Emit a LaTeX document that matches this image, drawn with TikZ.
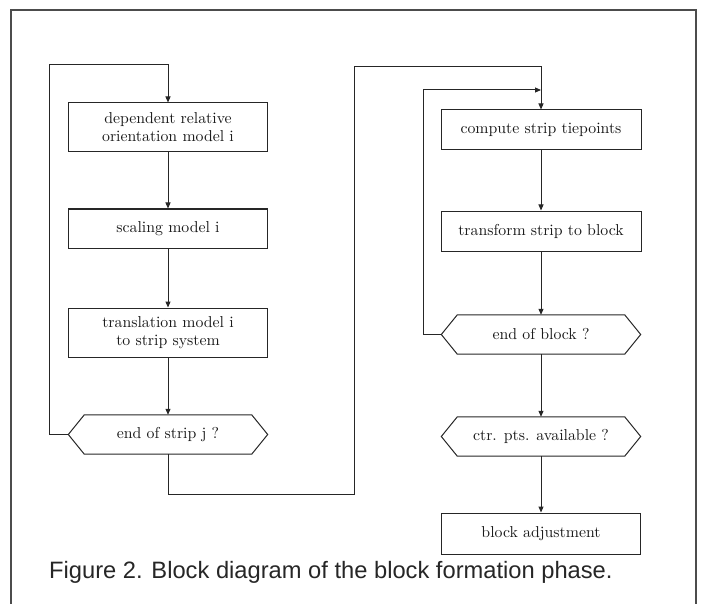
\documentclass[tikz,border=0pt]{standalone}
\usepackage{fontspec}
\newfontfamily\capfont{Liberation Sans}
\newfontfamily\stepfont{lmroman10-regular.otf}
\usetikzlibrary{arrows.meta,calc}
% hexagonal decision outline drawn around a plain rectangular node,
% with named coordinates at its two side tips
\newcommand\hexframe[1]{%
  \coordinate (#1-l) at ($(#1.west)+(-16,0)$);
  \coordinate (#1-r) at ($(#1.east)+(16,0)$);
  \draw[line] (#1.north west) -- (#1.north east) -- (#1-r) --
    (#1.south east) -- (#1.south west) -- (#1-l) -- cycle;}
\begin{document}
\begin{tikzpicture}[x=1pt,y=-1pt,
  line/.style={draw=black!85, line width=1pt},
  frameline/.style={draw=black!70, line width=1.6pt},
  flow/.style={line, -{Triangle[length=6pt,width=5pt]}},
  boxfont/.style={font=\stepfont\fontsize{15.8}{18}\selectfont, text=black!90},
  stepbox/.style={line, boxfont, rectangle, minimum width=199pt,
    minimum height=40pt, inner sep=0pt, align=center},
  tallbox/.style={stepbox, minimum height=49pt},
  hexbody/.style={boxfont, rectangle, minimum width=167pt,
    minimum height=39pt, inner sep=0pt}
]
\useasboundingbox (0,0) rectangle (701,604);

% surrounding frame, open at the bottom
\draw[frameline] (11,604) -- (11,10) -- (696,10) -- (696,604);

% strip formation column
\node[tallbox] (orient) at (168,127.5) {dependent relative\\orientation model i};
\node[stepbox, minimum height=39pt] (scale) at (168,228.5) {scaling model i};
\node[tallbox] (transl) at (168,332.5) {translation model i\\to strip system};
\node[hexbody] (endstrip) at (168,434.5) {end of strip j ?};
\hexframe{endstrip}

% block formation column
\node[stepbox, minimum width=200pt] (compute) at (541,130) {compute strip tiepoints};
\node[stepbox, minimum width=200pt] (transf) at (541,231) {transform strip to block};
\node[hexbody] (endblock) at (541,334.5) {end of block ?};
\hexframe{endblock}
\node[hexbody] (ctrpts) at (541,436.5) {ctr. pts. available ?};
\hexframe{ctrpts}
\node[stepbox, minimum height=41pt] (adjust) at (541,533.5) {block adjustment};

% routing points of the loops
\coordinate (loopL) at (49,65);
\coordinate (jog) at (354,494);
\coordinate (bridge) at (354,67);
\coordinate (loopR) at (423,90);

% straight flow
\draw[flow] (orient) -- (scale);
\draw[flow] (scale) -- (transl);
\draw[flow] (transl) -- (endstrip);
\draw[flow] (compute) -- (transf);
\draw[flow] (transf) -- (endblock);
\draw[flow] (endblock) -- (ctrpts);
\draw[flow] (ctrpts) -- (adjust);

% loops
\draw[flow] (endstrip-l) -| (loopL) -| (orient.north);
\draw[flow] (endstrip.south) |- (jog) -- (bridge) -| (compute.north);
\draw[flow] (endblock-l) -| (loopR) -- (loopR -| compute.north);

% caption
\node[anchor=base west, inner sep=0pt, text=black!85,
  font=\capfont\fontsize{23.7}{26}\selectfont] (caption) at (49,578)
  {Figure 2. Block diagram of the block formation phase.};
\end{tikzpicture}
\end{document}
